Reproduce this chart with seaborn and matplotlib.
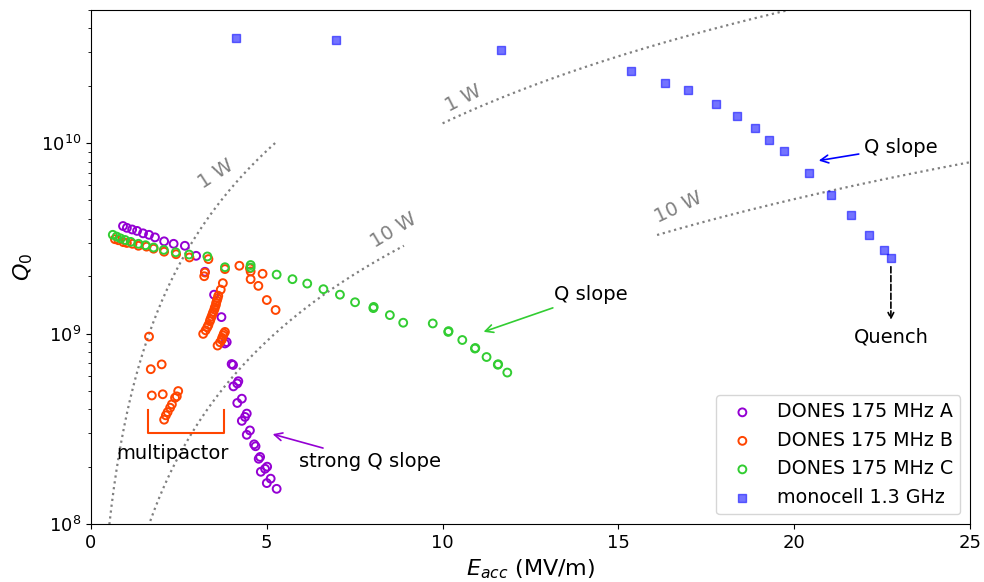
import numpy as np
import matplotlib
matplotlib.use("Agg")
import matplotlib.pyplot as plt
import seaborn as sns

# ---------------- data ----------------
A_E = [0.91, 1.02, 1.17, 1.31, 1.48, 1.65, 1.82, 2.08, 2.35, 2.67, 2.99, 3.24, 3.50, 3.71,
       3.86, 3.81, 4.00, 4.04, 4.19, 4.16, 4.05, 4.29, 4.16, 4.43, 4.38, 4.29, 4.52, 4.43,
       4.64, 4.68, 4.81, 4.77, 5.01, 4.95, 4.83, 5.11, 5.00, 5.28]
A_Q = [3.67e9, 3.59e9, 3.52e9, 3.46e9, 3.36e9, 3.30e9, 3.20e9, 3.05e9, 2.96e9, 2.89e9,
       2.56e9, 2.11e9, 1.60e9, 1.22e9, 9.02e8, 8.87e8, 6.92e8, 6.84e8, 5.62e8, 5.47e8,
       5.28e8, 4.55e8, 4.32e8, 3.80e8, 3.65e8, 3.48e8, 3.10e8, 2.94e8, 2.62e8, 2.56e8,
       2.25e8, 2.20e8, 2.00e8, 1.95e8, 1.88e8, 1.73e8, 1.64e8, 1.53e8]

B_E = [0.68, 0.78, 0.92, 1.02, 1.18, 1.35, 1.58, 1.78, 2.08, 2.42, 2.80, 3.34, 3.24, 3.22,
       3.81, 4.22, 4.52, 4.54, 4.88, 4.54, 4.76, 5.00, 5.25, 3.75, 3.69,
       3.62, 3.60, 3.58, 3.56, 3.55, 3.52, 3.51, 3.48, 3.46, 3.43, 3.40, 3.38, 3.34, 3.31,
       3.26, 3.19,
       3.81, 3.78, 3.76, 3.73, 3.72, 3.67, 3.60,
       1.65, 1.70, 2.01, 1.73, 2.04, 2.48, 2.44, 2.39, 2.30, 2.25, 2.18, 2.13, 2.08]
B_Q = [3.13e9, 3.09e9, 3.02e9, 2.99e9, 2.96e9, 2.89e9, 2.86e9, 2.79e9, 2.69e9, 2.61e9,
       2.51e9, 2.46e9, 2.09e9, 2.00e9, 2.18e9, 2.27e9, 2.20e9, 2.12e9, 2.06e9, 1.93e9,
       1.78e9, 1.50e9, 1.33e9, 1.84e9, 1.70e9,
       1.58e9, 1.53e9, 1.49e9, 1.45e9, 1.41e9, 1.37e9, 1.34e9, 1.30e9, 1.27e9, 1.23e9,
       1.19e9, 1.16e9, 1.11e9, 1.08e9, 1.04e9, 9.96e8,
       1.02e9, 1.00e9, 9.77e8, 9.49e8, 9.27e8, 9.00e8, 8.65e8,
       9.64e8, 6.50e8, 6.89e8, 4.73e8, 4.80e8, 4.99e8, 4.68e8, 4.60e8, 4.25e8, 4.08e8,
       3.87e8, 3.72e8, 3.53e8]

C_E = [0.62, 0.73, 0.84, 0.97, 1.13, 1.35, 1.55, 1.78, 2.07, 2.41, 2.79, 3.31, 3.81, 4.54,
       4.54, 5.28, 5.73, 6.15, 6.61, 7.08, 7.51, 8.03, 8.04, 8.50, 8.88, 9.72, 10.16, 10.17,
       10.56, 10.92, 10.93, 11.25, 11.57, 11.58, 11.84]
C_Q = [3.30e9, 3.23e9, 3.16e9, 3.10e9, 3.03e9, 2.96e9, 2.91e9, 2.83e9, 2.75e9, 2.67e9,
       2.60e9, 2.54e9, 2.23e9, 2.29e9, 2.22e9, 2.04e9, 1.93e9, 1.83e9, 1.71e9, 1.60e9,
       1.46e9, 1.36e9, 1.38e9, 1.25e9, 1.14e9, 1.13e9, 1.02e9, 1.03e9, 9.25e8, 8.34e8,
       8.40e8, 7.53e8, 6.86e8, 6.90e8, 6.24e8]

M_E = [4.12, 6.97, 11.66, 15.36, 16.33, 16.98, 17.78, 18.37, 18.88, 19.28, 19.71, 20.42,
       21.05, 21.62, 22.13, 22.55, 22.75]
M_Q = [3.55e10, 3.46e10, 3.07e10, 2.38e10, 2.08e10, 1.89e10, 1.60e10, 1.38e10, 1.20e10,
       1.04e10, 9.08e9, 6.96e9, 5.35e9, 4.20e9, 3.30e9, 2.75e9, 2.50e9]

labels = ["DONES 175 MHz A", "DONES 175 MHz B", "DONES 175 MHz C", "monocell 1.3 GHz"]
colors = ["darkviolet", "orangered", "limegreen", "blue"]

# iso-power curves: Q0 = k * E^2 / P
k_dones = 3.65e8
k_mono = 1.27e8
dones_curves = [(1, 0.0, 5.3), (10, 0.0, 8.9)]
mono_curves = [(1, 10.0, 20.2), (10, 16.1, 25.0)]

# ---------------- figure ----------------
fig = plt.figure(figsize=(9.84, 5.82), dpi=100)
ax = fig.add_axes([91 / 984, 1 - 524 / 582, (970 - 91) / 984, (524 - 10) / 582])

for k, curves in [(k_dones, dones_curves), (k_mono, mono_curves)]:
    for P, e0, e1 in curves:
        E = np.linspace(e0, e1, 400)
        ax.plot(E, k * E ** 2 / P, ls=":", color="gray", lw=1.6)

for E, Q, lab, c in [(A_E, A_Q, labels[0], colors[0]),
                     (B_E, B_Q, labels[1], colors[1]),
                     (C_E, C_Q, labels[2], colors[2])]:
    sns.scatterplot(x=E, y=Q, ax=ax, marker="o", s=32, color=c,
                    facecolor="none", edgecolor=c, linewidth=1.4, label=lab, zorder=3)
sns.scatterplot(x=M_E, y=M_Q, ax=ax, marker="s", s=28, color="blue",
                edgecolor="blue", linewidth=1.0, alpha=0.55, label=labels[3], zorder=3)

ax.set_yscale("log")
ax.set_xlim(0, 25)
ax.set_ylim(1e8, 5e10)
ax.set_xticks([0, 5, 10, 15, 20, 25])
ax.tick_params(labelsize=13)
ax.set_xlabel("$E_{acc}$ (MV/m)", fontsize=16)
ax.set_ylabel("$Q_0$", fontsize=16)

# power labels
pw_txt = [("1 W", 3.56, 6.9e9, 33), ("10 W", 8.62, 3.5e9, 31),
          ("1 W", 10.58, 1.72e10, 27), ("10 W", 16.72, 4.62e9, 25)]
for t, x, y, r in pw_txt:
    ax.text(x, y, t, color="gray", fontsize=14, rotation=r, ha="center", va="center")

# annotations
ax.annotate("Q slope", xy=(11.09, 1.01e9), xytext=(14.22, 1.60e9), fontsize=14,
            ha="center", va="center",
            arrowprops=dict(arrowstyle="->", color="limegreen", lw=1.2))
ax.annotate("strong Q slope", xy=(5.09, 2.99e8), xytext=(7.94, 2.14e8), fontsize=14,
            ha="center", va="center",
            arrowprops=dict(arrowstyle="->", color="darkviolet", lw=1.2))
ax.annotate("Q slope", xy=(20.62, 8.05e9), xytext=(23.04, 9.53e9), fontsize=14,
            ha="center", va="center",
            arrowprops=dict(arrowstyle="->", color="blue", lw=1.2))
ax.annotate("", xy=(22.75, 1.14e9), xytext=(22.75, 2.32e9),
            arrowprops=dict(arrowstyle="->", color="black", lw=1.2, ls="--"))
ax.text(22.75, 9.64e8, "Quench", fontsize=14, ha="center", va="center")

bracket_x = [1.62, 1.62, 3.78, 3.78]
bracket_y = [3.95e8, 3.0e8, 3.0e8, 3.95e8]
ax.plot(bracket_x, bracket_y, color="orangered", lw=1.5)
ax.text(2.33, 2.35e8, "multipactor", fontsize=14, ha="center", va="center")

ax.legend(loc="lower right", fontsize=13.7)

fig.savefig("out.png", dpi=100)
